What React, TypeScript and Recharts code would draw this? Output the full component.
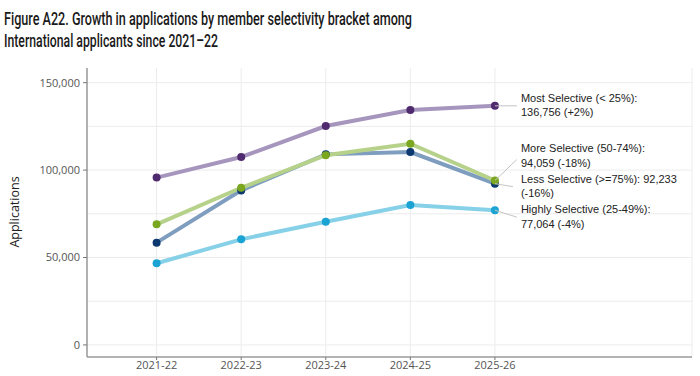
import React from 'react';
import { LineChart, Line, XAxis, YAxis, CartesianGrid } from 'recharts';

const years = ['2021-22', '2022-23', '2023-24', '2024-25', '2025-26'];
const mostSelective = [95700, 107500, 125200, 134400, 136756];
const moreSelective = [69000, 89900, 108500, 115100, 94059];
const lessSelective = [58500, 88400, 109000, 110300, 92233];
const highlySelective = [46700, 60400, 70500, 80000, 77064];
const yTicks = [0, 50000, 100000, 150000];
const gridValues = [0, 25000, 50000, 75000, 100000, 125000, 150000];

const mostLabel = ['Most Selective (< 25%):', '136,756 (+2%)'];
const moreLabel = ['More Selective (50-74%):', '94,059 (-18%)'];
const lessLabel = ['Less Selective (>=75%): 92,233', '(-16%)'];
const highlyLabel = ['Highly Selective (25-49%):', '77,064 (-4%)'];

const data = years.map((y, i) => ({
  i,
  year: y,
  most: mostSelective[i],
  more: moreSelective[i],
  less: lessSelective[i],
  highly: highlySelective[i],
}));

const labelFont = '"Liberation Sans", Arial, sans-serif';
const tickFont = '"Open Sans", Roboto, sans-serif';

function makeLabel(lines: string[], dy1: number, lead: [number, number]) {
  return (props: any) => {
    const { x, y, index } = props;
    if (index !== years.length - 1 || x == null || y == null) return null;
    return (
      <g>
        <line x1={x} y1={y} x2={x + lead[0]} y2={y + lead[1]} stroke="#c4c4c4" strokeWidth={1} />
        <text x={x + 26} y={y + dy1} fontFamily={labelFont} fontSize={11} fill="#222" dominantBaseline="middle">
          {lines[0]}
        </text>
        <text x={x + 26} y={y + dy1 + 14.5} fontFamily={labelFont} fontSize={11} fill="#222" dominantBaseline="middle">
          {lines[1]}
        </text>
      </g>
    );
  };
}

const dotStyle = (fill: string) => ({ r: 4, fill, stroke: 'none', strokeWidth: 0 });

export default function App() {
  return (
    <div style={{ position: 'absolute', left: 0, top: 0, width: 700, height: 376, background: '#fff' }}>
      <svg width={700} height={56} style={{ position: 'absolute', left: 0, top: 0 }}>
        <text x={4} y={25} fontFamily="Roboto, sans-serif" fontWeight={500} fontSize={17.5} fill="#1a1a1a" textLength={408} lengthAdjust="spacingAndGlyphs">
          Figure A22. Growth in applications by member selectivity bracket among
        </text>
        <text x={4} y={47} fontFamily="Roboto, sans-serif" fontWeight={500} fontSize={17.5} fill="#1a1a1a" textLength={214} lengthAdjust="spacingAndGlyphs">
          International applicants since 2021–22
        </text>
      </svg>
      <div style={{ position: 'absolute', left: 0, top: 0 }}>
        <LineChart width={700} height={376} data={data} margin={{ top: 68, right: 8, bottom: 0, left: 0 }}>
          <CartesianGrid stroke="#ececec" strokeWidth={1} horizontalValues={gridValues} />
          <XAxis
            dataKey="i"
            type="number"
            domain={[-0.823, 6.33]}
            ticks={[0, 1, 2, 3, 4]}
            tickFormatter={(v: number) => years[v] ?? ''}
            allowDataOverflow
            height={19}
            tickSize={3}
            tickMargin={1}
            axisLine={{ stroke: '#9a9a9a', strokeWidth: 1.5 }}
            tickLine={{ stroke: '#777' }}
            tick={{ fontFamily: tickFont, fontSize: 11, fill: '#555' }}
          />
          <XAxis xAxisId="top" orientation="top" dataKey="i" type="number" domain={[-0.823, 6.33]} height={0} tick={false} tickLine={false} axisLine={{ stroke: '#c8c8c8' }} />
          <YAxis
            type="number"
            domain={[-6900, 158400]}
            ticks={yTicks}
            allowDataOverflow
            width={87}
            tickSize={4}
            tickMargin={3}
            tickFormatter={(v: number) => v.toLocaleString('en-US')}
            axisLine={{ stroke: '#9a9a9a', strokeWidth: 1.5 }}
            tickLine={{ stroke: '#777' }}
            tick={{ fontFamily: tickFont, fontSize: 11, fill: '#555' }}
            label={{
              content: (p: any) => (
                <text
                  transform={`translate(19, 212) rotate(-90)`}
                  textAnchor="middle"
                  fontFamily={tickFont}
                  fontSize={12.5}
                  fill="#222"
                >
                  Applications
                </text>
              ),
            }}
          />
          <YAxis yAxisId="right" orientation="right" width={0} tick={false} tickLine={false} axisLine={{ stroke: '#c8c8c8' }} />
          <Line dataKey="highly" stroke="#86d0e8" strokeWidth={4} dot={dotStyle('#1aa3d3')} activeDot={false} isAnimationActive={false} label={makeLabel(highlyLabel, 0, [22, 7])} />
          <Line dataKey="less" stroke="#7e9dbf" strokeWidth={4} dot={dotStyle('#0c3a70')} activeDot={false} isAnimationActive={false} label={makeLabel(lessLabel, -4, [18, 3])} />
          <Line dataKey="more" stroke="#b6d18a" strokeWidth={4} dot={dotStyle('#7aa620')} activeDot={false} isAnimationActive={false} label={makeLabel(moreLabel, -31, [22, -21])} />
          <Line dataKey="most" stroke="#a696be" strokeWidth={4} dot={dotStyle('#4f2a6e')} activeDot={false} isAnimationActive={false} label={makeLabel(mostLabel, -7, [22, 0])} />
        </LineChart>
      </div>
    </div>
  );
}
